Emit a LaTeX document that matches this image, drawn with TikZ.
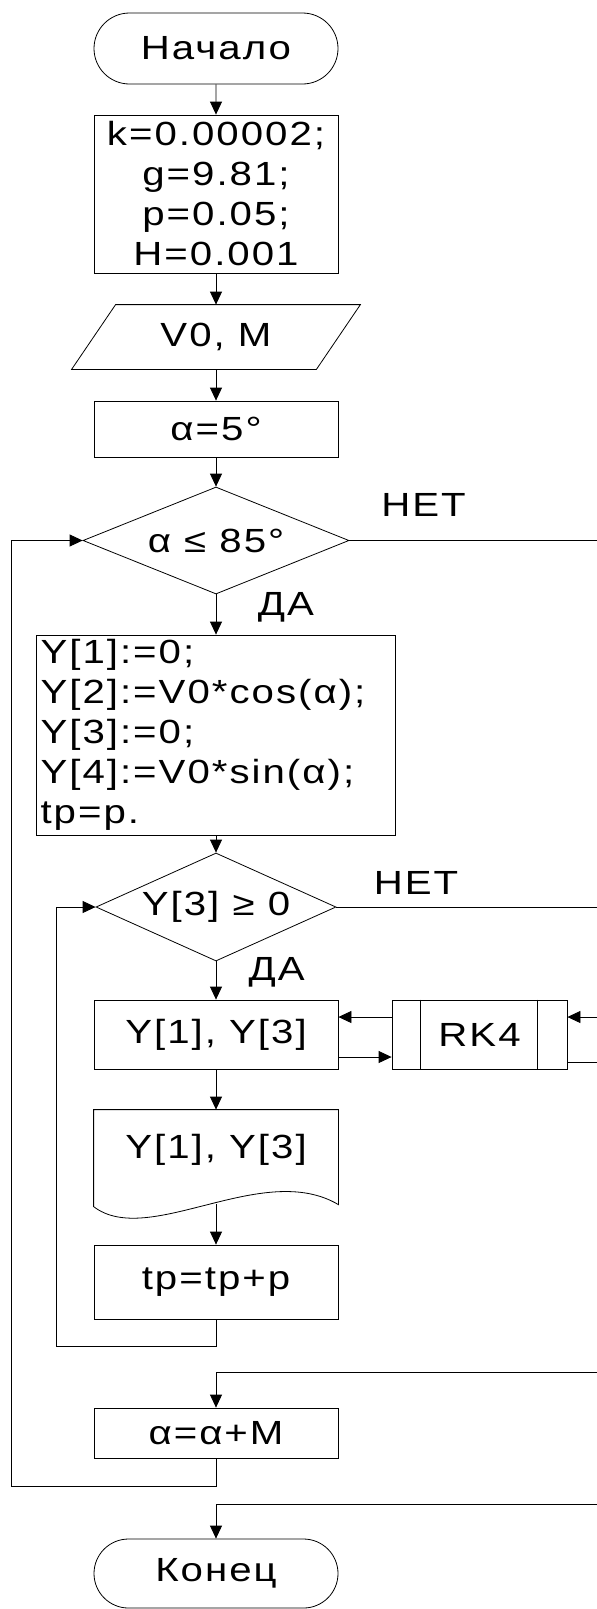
\documentclass[tikz,border=0pt]{standalone}
\usepackage{fontspec}
\setmainfont{Liberation Sans}[FakeStretch=1.2,LetterSpace=6]
\usetikzlibrary{shapes.geometric,shapes.misc,arrows.meta,calc}
\tikzset{
  txt/.style={font=\fontsize{33.5}{40}\selectfont, inner sep=0pt},
  term/.style={txt, draw, rounded rectangle, minimum width=244pt, minimum height=71pt},
  procbox/.style={txt, draw, rectangle, minimum width=244pt},
  dec/.style={txt, draw, diamond, aspect=2.4},
  arr/.style={-{Triangle[length=13pt,width=12pt]}},
  lbl/.style={txt},
}
\begin{document}
\begin{tikzpicture}[x=1pt,y=-1pt,line width=0.8pt]
\useasboundingbox (0,0) rectangle (597,1609);
% nodes
\node[term] (start) at (216,48.5) {Начало};
\node[procbox, minimum height=158pt, align=center] (init) at (216,194) {k=0.00002;\\g=9.81;\\p=0.05;\\H=0.001};
\node[txt, minimum width=244pt, minimum height=64pt] (io) at (216,337) {V0, M};
\draw ($(io.north west)+(22,0)$) -- ($(io.north east)+(22,0)$) -- ($(io.south east)+(-22,0)$) -- ($(io.south west)+(-22,0)$) -- cycle;
\node[procbox, minimum height=56pt] (setA) at (216,429) {α=5°};
\node[dec, minimum width=266pt, minimum height=107pt] (d1) at (216,540.5) {α ≤ 85°};
\node[procbox, minimum width=359pt, minimum height=200pt, text width=351pt, inner xsep=4pt, align=left] (init2) at (216,735) {Y[1]:=0;\\Y[2]:=V0*cos(α);\\Y[3]:=0;\\Y[4]:=V0*sin(α);\\tp=p.};
\node[dec, minimum width=240pt, minimum height=108pt] (d2) at (216,907) {Y[3] ≥ 0};
\node[procbox, minimum height=69pt] (calc) at (216,1034.5) {Y[1], Y[3]};
\node[procbox, minimum width=175pt, minimum height=69pt] (rk) at (479.5,1034.5) {RK4};
\draw ($(rk.north west)+(28.7,0)$) -- ($(rk.south west)+(28.7,0)$);
\draw ($(rk.north east)+(-30.5,0)$) -- ($(rk.south east)+(-30.5,0)$);
\node[txt, minimum width=244pt, minimum height=80pt] (doc) at (216,1150) {Y[1], Y[3]};
\draw (doc.north west) -- (doc.north east) -- ($(doc.north east)+(0,95)$)
  .. controls ($(doc.north west)+(169,50)$) and ($(doc.north west)+(55,139)$) .. ($(doc.north west)+(0,97)$) -- cycle;
\node[procbox, minimum height=74pt] (tp) at (216,1282) {tp=tp+p};
\node[procbox, minimum height=50pt] (inc) at (216,1433) {α=α+M};
\node[term, minimum height=69pt] (end) at (216,1573.5) {Конец};
% labels
\node[lbl] (net1) at (423.5,505) {НЕТ};
\node[lbl] (da1) at (286,607) {ДА};
\node[lbl] (net2) at (416,883) {НЕТ};
\node[lbl] (da2) at (276.6,972) {ДА};
% free ends at the right edge
\coordinate (r1) at (597,540.5);
\coordinate (r2) at (597,907);
\coordinate (r3) at (597,1372);
\coordinate (r4) at (597,1504);
\coordinate (rkin) at (597,1017);
\coordinate (rkout) at (597,1062);
% connectors
\draw[arr] (start) -- (init);
\draw[arr] (init) -- (io);
\draw[arr] (io) -- (setA);
\draw[arr] (setA) -- (d1);
\draw[arr] (d1) -- (init2);
\draw[arr] (init2) -- (d2);
\draw[arr] (d2) -- (calc);
\draw[arr] (calc) -- (doc);
\draw[arr] ($(doc.south)+(0,14)$) -- (tp);
\draw (d1.east) -- (r1);
\draw (d2.east) -- (r2);
\draw[arr] ($(rk.west)+(0,-17.5)$) -- ($(calc.east)+(0,-17.5)$);
\draw[arr] ($(calc.east)+(0,22.5)$) -- ($(rk.west)+(0,22.5)$);
\draw[arr] (rkin) -- (rkin -| rk.east);
\draw (rkout -| rk.east) -- (rkout);
\draw[arr] (tp.south) -- ++(0,27) -| ($(d2.west)+(-39,0)$) -- (d2.west);
\draw[arr] (inc.south) -- ++(0,28) -| ($(d1.west)+(-71,0)$) -- (d1.west);
\draw[arr] (r3) -| (inc.north);
\draw[arr] (r4) -| (end.north);
\end{tikzpicture}
\end{document}
